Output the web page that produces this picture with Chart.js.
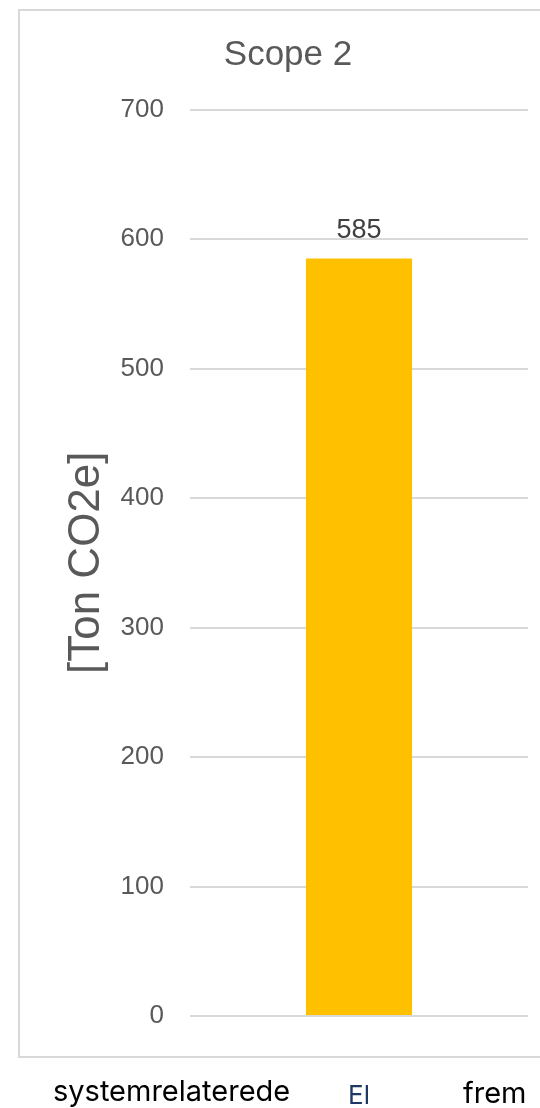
<!DOCTYPE html>
<html>
<head>
<meta charset="utf-8">
<script src="https://cdn.jsdelivr.net/npm/chart.js@4"></script>
<style>
  html, body { margin: 0; padding: 0; background: #ffffff; overflow: hidden; }
  body { width: 540px; height: 1108px; position: relative; }
  #frame { position: absolute; left: 18px; top: 9px; width: 600px; height: 1049px;
           box-sizing: border-box; border: 2px solid #d9d9d9; }
  #wrap { position: absolute; left: 0; top: 0; width: 540px; height: 1108px; }
  .doc { position: absolute; font-family: "Inter", "Noto Sans", sans-serif; font-size: 29px;
         color: #000000; line-height: 1; white-space: nowrap; }
</style>
</head>
<body>
<div id="frame"></div>
<div id="wrap"><canvas id="c" width="540" height="1108"></canvas></div>
<span class="doc" id="t1" style="left:53px; top:1076px;">systemrelaterede</span>
<span class="doc" id="t2" style="left:463px; top:1078px;">frem</span>
<script>
const chartTitle = 'Scope 2';
const axisTitle = '[Ton CO2e]';
const categories = ['El'];
const values = [585];
const yMin = 0;
const yMax = 700;
const yStep = 100;

const FONT = "'Liberation Sans', Arial, sans-serif";

const valueLabels = {
  id: 'valueLabels',
  afterDatasetsDraw(chart) {
    const ctx = chart.ctx;
    const meta = chart.getDatasetMeta(0);
    ctx.save();
    ctx.font = "27px " + FONT;
    ctx.fillStyle = '#404040';
    ctx.textAlign = 'center';
    ctx.textBaseline = 'alphabetic';
    meta.data.forEach((bar, i) => {
      ctx.fillText(String(values[i]), bar.x, bar.y - 20);
    });
    ctx.restore();
  }
};

new Chart(document.getElementById('c'), {
  type: 'bar',
  data: {
    labels: categories,
    datasets: [{
      data: values,
      backgroundColor: '#FFC000',
      borderWidth: 0,
      categoryPercentage: 1,
      barPercentage: 0.314
    }]
  },
  options: {
    responsive: false,
    animation: false,
    devicePixelRatio: 1,
    layout: { padding: { left: 48, right: 12, top: 0, bottom: 0 } },
    plugins: {
      legend: { display: false },
      tooltip: { enabled: false },
      title: {
        display: true,
        text: chartTitle,
        color: '#595959',
        font: { family: FONT, size: 35, weight: 'normal', lineHeight: 1.2 },
        padding: { top: 34, bottom: 33.5 }
      }
    },
    scales: {
      x: {
        grid: { display: false, drawTicks: false },
        border: { display: false },
        ticks: {
          color: '#1F3864',
          font: { family: "'Inter', 'Noto Sans', sans-serif", size: 26, lineHeight: 1.2 },
          padding: 65
        },
        afterFit(scale) { scale.height = 92; }
      },
      y: {
        min: yMin,
        max: yMax,
        grid: { color: '#d9d9d9', lineWidth: 2, drawTicks: false },
        border: { display: false },
        ticks: {
          stepSize: yStep,
          color: '#595959',
          font: { family: FONT, size: 26 },
          padding: 26
        },
        title: {
          display: true,
          text: axisTitle,
          color: '#595959',
          font: { family: FONT, size: 44, lineHeight: 1 },
          padding: { top: 17, bottom: 0 }
        },
        afterFit(scale) { scale.width = 142; }
      }
    }
  },
  plugins: [valueLabels]
});
</script>
</body>
</html>
